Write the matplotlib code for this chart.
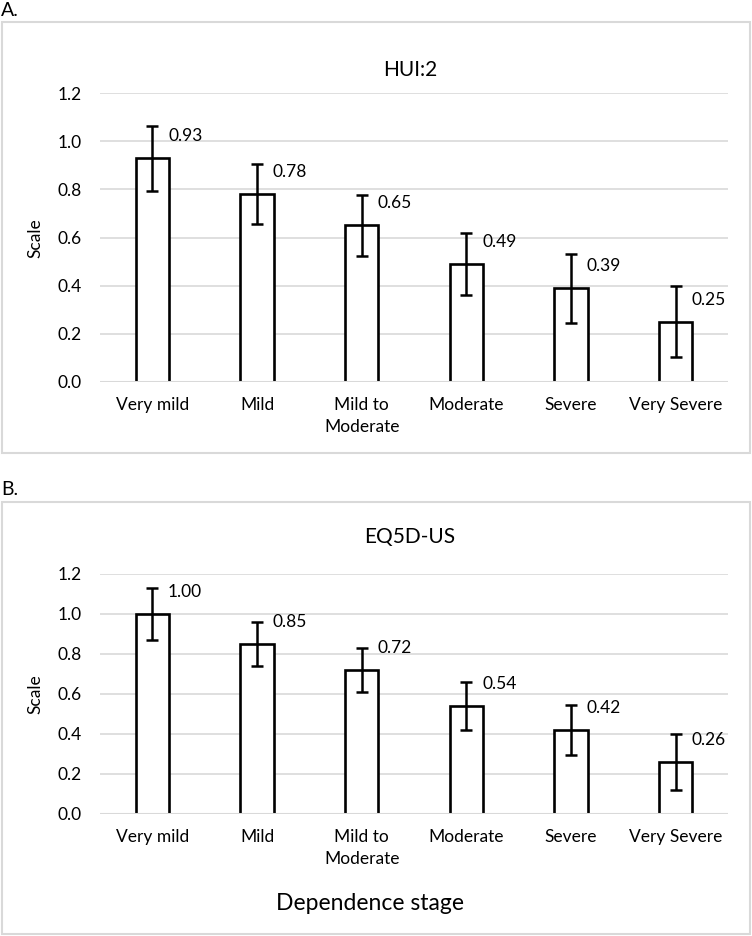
import numpy as np
import matplotlib
matplotlib.use('Agg')
import matplotlib.pyplot as plt
import matplotlib.patches as patches

plt.rcParams['font.family'] = ['Lato', 'DejaVu Sans']

stages = ['Very mild', 'Mild', 'Mild to\nModerate', 'Moderate', 'Severe', 'Very Severe']

hui_vals = [0.93, 0.78, 0.65, 0.49, 0.39, 0.25]
hui_err = [0.135, 0.125, 0.125, 0.13, 0.143, 0.148]

eq_vals = [1.00, 0.85, 0.72, 0.54, 0.42, 0.26]
eq_err = [0.13, 0.11, 0.11, 0.12, 0.127, 0.14]

W, H = 752, 936
fig = plt.figure(figsize=(W / 100, H / 100), dpi=100)

grid_col = '#d9d9d9'


def fx(px):
    return px / W


def fy(py):
    return 1 - py / H


def panel(ax, vals, err, title, title_y):
    x = np.arange(len(stages))
    ax.bar(x, vals, width=0.32, color='white', edgecolor='black', linewidth=1.9, zorder=3)
    ax.errorbar(x, vals, yerr=err, fmt='none', ecolor='black', elinewidth=1.8,
                capsize=4.5, capthick=1.8, zorder=4)
    for xi, v in zip(x, vals):
        ax.annotate('%.2f' % v, (xi + 0.15, v), xytext=(0, 16), textcoords='offset points',
                    ha='left', va='center', fontsize=12.5)
    ax.set_xlim(-0.5, len(stages) - 0.5)
    ax.set_ylim(0, 1.2)
    ax.set_yticks(np.arange(0, 1.21, 0.2))
    ax.set_yticklabels(['%.1f' % t for t in np.arange(0, 1.21, 0.2)])
    ax.set_xticks(x)
    ax.set_xticklabels(stages, linespacing=1.45)
    ax.yaxis.grid(True, color=grid_col, linewidth=1.2, zorder=0)
    ax.axhline(0, color=grid_col, linewidth=2.2, zorder=5)
    for s in ax.spines.values():
        s.set_visible(False)
    ax.tick_params(axis='both', length=0, labelsize=12.5, colors='black')
    ax.tick_params(axis='y', pad=13)
    ax.tick_params(axis='x', pad=11)
    fig.text(fx(410), title_y, title, ha='center', va='center', fontsize=15)


# panel A
ax1 = fig.add_axes([fx(100), fy(382), fx(628), (382 - 93) / H])
panel(ax1, hui_vals, hui_err, 'HUI:2', fy(70))
fig.text(fx(35), fy(238), 'Scale', rotation=90, ha='center', va='center', fontsize=12.5)
fig.text(fx(1), fy(11), 'A.', ha='left', va='center', fontsize=14)
fig.add_artist(patches.Rectangle((fx(2), fy(453)), fx(748), (453 - 22) / H,
                                 transform=fig.transFigure, fill=False,
                                 edgecolor=grid_col, linewidth=1.5))

# panel B
ax2 = fig.add_axes([fx(100), fy(814), fx(628), (814 - 574) / H])
panel(ax2, eq_vals, eq_err, 'EQ5D-US', fy(537))
fig.text(fx(35), fy(694), 'Scale', rotation=90, ha='center', va='center', fontsize=12.5)
fig.text(fx(1), fy(489), 'B.', ha='left', va='center', fontsize=14)
fig.text(fx(370), fy(903), 'Dependence stage', ha='center', va='center', fontsize=16.5)
fig.add_artist(patches.Rectangle((fx(2), fy(934)), fx(748), (934 - 502) / H,
                                 transform=fig.transFigure, fill=False,
                                 edgecolor=grid_col, linewidth=1.5))

fig.savefig('out.png', dpi=100)
